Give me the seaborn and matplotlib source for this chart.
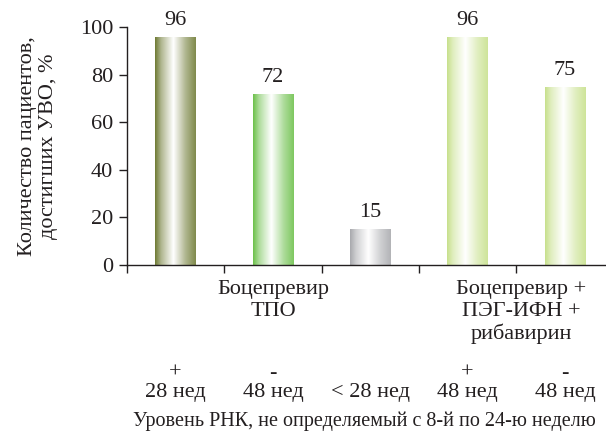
import numpy as np
import pandas as pd
import matplotlib
matplotlib.use("Agg")
import matplotlib.pyplot as plt
import matplotlib.colors as mcolors
import seaborn as sns

# data
signs = ["+", "-", " ", "+", "-"]
durations = ["28 нед", "48 нед", "< 28 нед", "48 нед", "48 нед"]
values = [96, 72, 15, 96, 75]
bar_colors = ["#6e7a33", "#6cc04a", "#a8a9ad", "#c7e08b", "#c7e08b"]
groups = ["Боцепревир\nТПО", "Боцепревир +\nПЭГ-ИФН +\nрибавирин"]
group_pos = [1, 3.55]
ylabel = "Количество пациентов,\nдостигших УВО, %"
xlabel = "Уровень РНК, не определяемый с 8-й по 24-ю неделю"

labels = [f"{s}\n{d}" for s, d in zip(signs, durations)]
bar_ids = [str(i) for i in range(len(values))]
df = pd.DataFrame({"bar": bar_ids, "value": values})

sns.set_style("ticks")
plt.rcParams["font.family"] = ["Liberation Serif", "DejaVu Serif"]
ink = "#231f20"
plt.rcParams["text.color"] = ink
plt.rcParams["axes.labelcolor"] = ink
plt.rcParams["xtick.color"] = ink
plt.rcParams["ytick.color"] = ink
fs = 16

fig = plt.figure(figsize=(6.06, 4.36), dpi=100)
ax = fig.add_axes([0.2096, 0.392, 0.803, 0.546])

sns.barplot(data=df, x="bar", y="value", hue="bar", palette=bar_colors,
            width=0.42, legend=False, errorbar=None, ax=ax)

# cylinder-like gradient fill
t = np.linspace(0, 1, 200)
white = np.interp(t, [0, 0.15, 0.45, 0.75, 1.0], [0.0, 0.45, 1.0, 0.45, 0.12])
for patch, col in zip(ax.patches, bar_colors):
    x0, y0 = patch.get_x(), patch.get_y()
    w, h = patch.get_width(), patch.get_height()
    base = np.array(mcolors.to_rgb(col))
    img = base[None, :] * (1 - white[:, None]) + white[:, None]
    im = ax.imshow(img[None, :, :], extent=[x0, x0 + w, y0, y0 + h],
                   aspect="auto", zorder=patch.get_zorder() + 0.1)
    im.set_clip_path(patch)
    patch.set_edgecolor("none")

for c in ax.containers:
    ax.bar_label(c, fmt="%d", padding=5, fontsize=fs)

ax.set_xlim(-0.5, 4.5)
ax.set_ylim(0, 100)
ax.set_yticks(range(0, 101, 20))
ax.set_xticks(np.arange(-0.5, 5, 1))
ax.set_xticklabels([])
ax.set_xticks(range(5), labels, minor=True)
ax.tick_params(axis="x", which="minor", length=0, pad=71, labelsize=fs)
ax.tick_params(axis="both", which="major", length=6, width=1, labelsize=fs)
ax.tick_params(axis="y", pad=4)
for tl in ax.get_xticklabels(minor=True):
    tl.set_linespacing(1.05)

ax.set_xlabel(xlabel, fontsize=14.5)
ax.xaxis.set_label_coords(0.487, -0.615)
ax.set_ylabel(ylabel, fontsize=16, labelpad=16, linespacing=1.1)

for g, pos in zip(groups, group_pos):
    ax.text(pos, -0.062, g, transform=ax.get_xaxis_transform(), ha="center",
            va="top", fontsize=fs, linespacing=1.2)

sns.despine(ax=ax, right=True, top=True)
for s in ax.spines.values():
    s.set_linewidth(1)
    s.set_color(ink)

fig.savefig("out.png", dpi=100)
